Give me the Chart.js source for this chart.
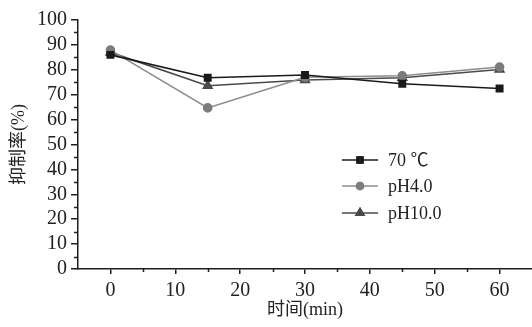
<!DOCTYPE html>
<html>
<head>
<meta charset="utf-8">
<script src="https://cdn.jsdelivr.net/npm/chart.js@4"></script>
<style>
html,body{margin:0;padding:0;background:#fff;}
canvas{display:block;}
</style>
</head>
<body>
<canvas id="c" width="532" height="327"></canvas>
<script>
const times = [0, 15, 30, 45, 60];
const seriesNames = ['70 ℃', 'pH4.0', 'pH10.0'];
const s70C = [86.0, 76.8, 77.9, 74.4, 72.5];
const sPH4 = [87.9, 64.7, 77.0, 77.6, 81.1];
const sPH10 = [87.0, 73.6, 75.9, 76.8, 80.1];
const xTickValues = [0, 10, 20, 30, 40, 50, 60];
const yTickValues = [0, 10, 20, 30, 40, 50, 60, 70, 80, 90, 100];

const FONT = "'Liberation Serif', 'Noto Sans CJK SC', serif";
const AXIS = '#1e1e1e';

function pts(arr){ return times.map((t,i)=>({x:t, y:arr[i]})); }

const minorTicks = {
  id: 'minorTicks',
  afterDraw(chart){
    const ctx = chart.ctx, xs = chart.scales.x, ys = chart.scales.y;
    const a = chart.chartArea;
    ctx.save();
    ctx.strokeStyle = AXIS; ctx.lineWidth = 1.5;
    for (let v = 5; v < 100; v += 10){
      const y = Math.round(ys.getPixelForValue(v)) + 0.5;
      ctx.beginPath(); ctx.moveTo(a.left - 4, y); ctx.lineTo(a.left, y); ctx.stroke();
    }
    for (let v = 5; v < 60; v += 10){
      const x = Math.round(xs.getPixelForValue(v)) + 0.5;
      ctx.beginPath(); ctx.moveTo(x, a.bottom); ctx.lineTo(x, a.bottom + 3); ctx.stroke();
    }
    ctx.restore();
  }
};

const customLegend = {
  id: 'customLegend',
  afterDraw(chart){
    const ctx = chart.ctx;
    const x0 = 342, x1 = 378, tx = 388;
    const rows = [160, 186, 213];
    ctx.save();
    chart.data.datasets.forEach((ds, i) => {
      const y = rows[i];
      ctx.strokeStyle = ds.borderColor; ctx.lineWidth = ds.borderWidth;
      ctx.beginPath(); ctx.moveTo(x0, y); ctx.lineTo(x1, y); ctx.stroke();
      Chart.helpers.drawPoint(ctx, {
        pointStyle: ds.pointStyle, radius: ds.pointRadius - 0.5, rotation: 0,
        borderWidth: 1
      }, (x0 + x1) / 2, y);
      ctx.fillStyle = ds.pointBackgroundColor;
      ctx.strokeStyle = ds.pointBorderColor;
      ctx.fill(); ctx.stroke();
      ctx.fillStyle = '#222';
      ctx.font = '18px ' + FONT;
      ctx.textBaseline = 'middle';
      ctx.fillText(ds.label, tx, y + 1);
    });
    ctx.restore();
  }
};

new Chart(document.getElementById('c'), {
  type: 'line',
  data: {
    datasets: [
      {label: seriesNames[0], data: pts(s70C), borderColor: '#1a1a1a', borderWidth: 1.6,
       pointStyle: 'rect', pointRadius: 4.5, pointBackgroundColor: '#1a1a1a', pointBorderColor: '#1a1a1a'},
      {label: seriesNames[1], data: pts(sPH4), borderColor: '#8c8c8c', borderWidth: 1.6,
       pointStyle: 'circle', pointRadius: 4, pointBackgroundColor: '#7c7c7c', pointBorderColor: '#7c7c7c'},
      {label: seriesNames[2], data: pts(sPH10), borderColor: '#4a4a4a', borderWidth: 1.6,
       pointStyle: 'triangle', pointRadius: 5, pointBackgroundColor: '#4a4a4a', pointBorderColor: '#4a4a4a'}
    ]
  },
  options: {
    responsive: false,
    animation: false,
    devicePixelRatio: 1,
    layout: {autoPadding: false, padding: {top: 20, right: 0, left: 0, bottom: 0}},
    plugins: {legend: {display: false}, tooltip: {enabled: false}},
    elements: {line: {tension: 0}},
    scales: {
      x: {
        type: 'linear', min: -5, max: 65,
        afterBuildTicks: s => { s.ticks = xTickValues.map(v => ({value: v})); },
        afterFit: s => { s.height = 58; s.paddingLeft = 0; s.paddingRight = 0; },
        ticks: {font: {family: FONT, size: 20}, color: '#222', padding: 5, maxRotation: 0, autoSkip: false},
        grid: {drawOnChartArea: false, tickLength: 5, color: AXIS, lineWidth: 1.5},
        border: {color: AXIS, width: 1.5},
        title: {display: true, text: '时间(min)', font: {family: FONT, size: 18}, color: '#222', padding: {top: 0, bottom: 6}}
      },
      y: {
        min: 0, max: 100,
        afterBuildTicks: s => { s.ticks = yTickValues.map(v => ({value: v})); },
        afterFit: s => { s.width = 78; },
        ticks: {font: {family: FONT, size: 20}, color: '#222', padding: 4, autoSkip: false},
        grid: {drawOnChartArea: false, tickLength: 7, color: AXIS, lineWidth: 1.5},
        border: {color: AXIS, width: 1.5},
        title: {display: true, text: '抑制率(%)', font: {family: FONT, size: 18}, color: '#222', padding: {top: 8, bottom: 0}}
      }
    }
  },
  plugins: [minorTicks, customLegend]
});
</script>
</body>
</html>
